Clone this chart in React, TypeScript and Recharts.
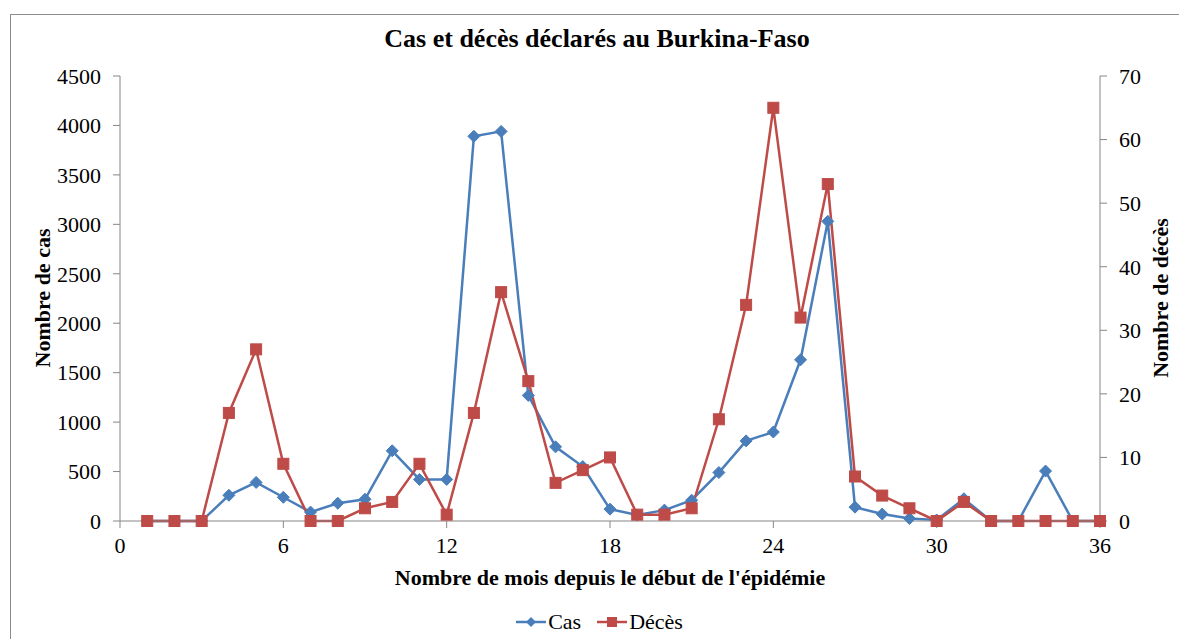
import React from "react";
import {
  LineChart,
  Line,
  XAxis,
  YAxis,
  Legend,
  Label,
} from "recharts";

const months = [
  1, 2, 3, 4, 5, 6, 7, 8, 9, 10, 11, 12, 13, 14, 15, 16, 17, 18,
  19, 20, 21, 22, 23, 24, 25, 26, 27, 28, 29, 30, 31, 32, 33, 34, 35, 36,
];
const cas = [
  0, 0, 0, 260, 390, 240, 90, 180, 220, 710, 420, 420, 3890, 3940, 1270, 750, 550, 120,
  60, 110, 210, 490, 810, 900, 1630, 3030, 140, 70, 25, 10, 225, 0, 0, 505, 0, 0,
];
const deces = [
  0, 0, 0, 17, 27, 9, 0, 0, 2, 3, 9, 1, 17, 36, 22, 6, 8, 10,
  1, 1, 2, 16, 34, 65, 32, 53, 7, 4, 2, 0, 3, 0, 0, 0, 0, 0,
];
const xTicks = [0, 6, 12, 18, 24, 30, 36];
const leftTicks = [0, 500, 1000, 1500, 2000, 2500, 3000, 3500, 4000, 4500];
const rightTicks = [0, 10, 20, 30, 40, 50, 60, 70];

const data = months.map((m, i) => ({ mois: m, cas: cas[i], deces: deces[i] }));

const BLUE = "#4A7EBB";
const RED = "#BE4B48";
const AXIS = "#868686";
const FONT = "'Liberation Serif', 'Times New Roman', serif";

const tickStyle = { fontFamily: FONT, fontSize: 22, fill: "#000" };
const labelStyle = { fontFamily: FONT, fontWeight: "bold", fontSize: 22 };

const Diamond = (props: any) => {
  const { cx, cy, index } = props;
  if (cx == null || cy == null) return <g key={index} />;
  const r = 6;
  return (
    <polygon
      key={"d" + index}
      points={`${cx},${cy - r} ${cx + r},${cy} ${cx},${cy + r} ${cx - r},${cy}`}
      fill={BLUE}
      stroke={BLUE}
    />
  );
};

const Square = (props: any) => {
  const { cx, cy, index } = props;
  if (cx == null || cy == null) return <g key={index} />;
  const s = 11;
  return (
    <rect
      key={"s" + index}
      x={cx - s / 2}
      y={cy - s / 2}
      width={s}
      height={s}
      fill={RED}
      stroke={RED}
    />
  );
};

const LegendContent = () => (
  <div
    style={{
      height: 24,
      display: "flex",
      justifyContent: "center",
      alignItems: "center",
      fontFamily: FONT,
      fontSize: 22,
      paddingLeft: 100,
      paddingRight: 80,
    }}
  >
    <svg width={30} height={14}>
      <line x1={0} y1={7} x2={30} y2={7} stroke={BLUE} strokeWidth={2.5} />
      <polygon points="15,2 20,7 15,12 10,7" fill={BLUE} />
    </svg>
    <span style={{ marginLeft: 2, marginRight: 16 }}>Cas</span>
    <svg width={30} height={14}>
      <line x1={0} y1={7} x2={30} y2={7} stroke={RED} strokeWidth={2.5} />
      <rect x={10} y={2} width={10} height={10} fill={RED} />
    </svg>
    <span style={{ marginLeft: 2 }}>Décès</span>
  </div>
);

export default function App() {
  return (
    <div
      style={{
        position: "fixed",
        left: 0,
        top: 0,
        width: 1179,
        height: 639,
        background: "#fff",
        overflow: "hidden",
      }}
    >
      <div
        style={{
          position: "absolute",
          left: 10,
          top: 14,
          width: 1200,
          height: 700,
          border: "1px solid #8c8c8c",
        }}
      />
      <div
        style={{
          position: "absolute",
          left: 0,
          top: 24,
          width: 1194,
          textAlign: "center",
          fontFamily: FONT,
          fontWeight: "bold",
          fontSize: 26,
        }}
      >
        Cas et décès déclarés au Burkina-Faso
      </div>
      <LineChart
        width={1179}
        height={639}
        data={data}
        margin={{ top: 76, right: 19, bottom: 64, left: 60 }}
        style={{ position: "absolute", left: 0, top: 0 }}
      >
        <XAxis
          dataKey="mois"
          type="number"
          domain={[0, 36]}
          ticks={xTicks}
          height={30}
          stroke={AXIS}
          tickSize={7}
          tickMargin={9}
          tick={tickStyle}
        >
          <Label
            content={() => (
              <text
                x={610}
                y={577}
                textAnchor="middle"
                dominantBaseline="central"
                style={labelStyle}
              >
                Nombre de mois depuis le début de l'épidémie
              </text>
            )}
          />
        </XAxis>
        <YAxis
          yAxisId="left"
          domain={[0, 4500]}
          ticks={leftTicks}
          width={60}
          stroke={AXIS}
          tickSize={7}
          tickMargin={12}
          tick={tickStyle}
        >
          <Label
            content={() => (
              <text
                x={42}
                y={298}
                textAnchor="middle"
                dominantBaseline="central"
                transform="rotate(-90 42 298)"
                style={labelStyle}
              >
                Nombre de cas
              </text>
            )}
          />
        </YAxis>
        <YAxis
          yAxisId="right"
          orientation="right"
          domain={[0, 70]}
          ticks={rightTicks}
          width={60}
          stroke={AXIS}
          tickSize={7}
          tickMargin={12}
          tick={tickStyle}
        >
          <Label
            content={() => (
              <text
                x={1160}
                y={298}
                textAnchor="middle"
                dominantBaseline="central"
                transform="rotate(-90 1160 298)"
                style={labelStyle}
              >
                Nombre de décès
              </text>
            )}
          />
        </YAxis>
        <Legend
          content={<LegendContent />}
          wrapperStyle={{ position: "absolute", top: 610, left: 0, width: 1179 }}
        />
        <Line
          yAxisId="left"
          dataKey="cas"
          name="Cas"
          stroke={BLUE}
          strokeWidth={2.5}
          dot={Diamond}
          activeDot={false}
          isAnimationActive={false}
        />
        <Line
          yAxisId="right"
          dataKey="deces"
          name="Décès"
          stroke={RED}
          strokeWidth={2.5}
          dot={Square}
          activeDot={false}
          isAnimationActive={false}
        />
      </LineChart>
    </div>
  );
}
